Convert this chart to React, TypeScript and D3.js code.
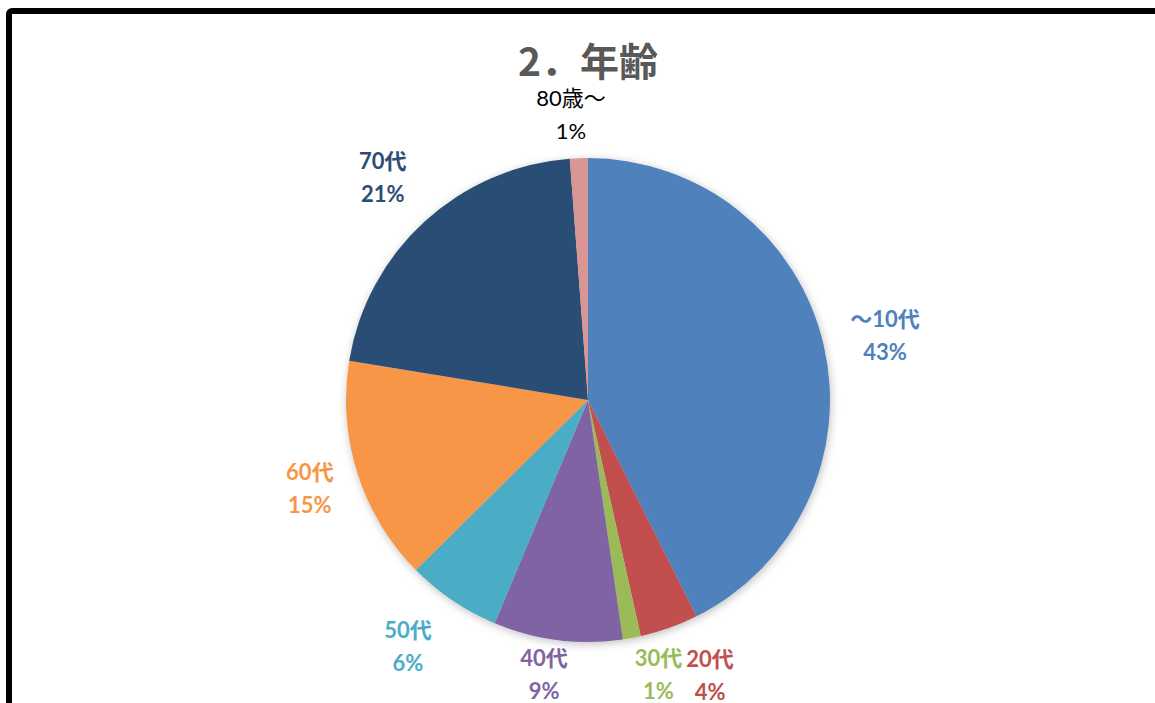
import React from "react";
import * as d3 from "d3";

const categories = ["～10代", "20代", "30代", "40代", "50代", "60代", "70代", "80歳～"];
const values = [42.6, 3.9, 1.2, 8.6, 6.3, 15.0, 21.2, 1.2];
const colors = ["#4F81BD", "#C0504D", "#9BBB59", "#8064A2", "#4BACC6", "#F79646", "#2C4D75", "#D99694"];
const labelColors = ["#4F81BD", "#C0504D", "#9BBB59", "#8064A2", "#4BACC6", "#F79646", "#2C4D75", "#000000"];
const labelNudge: [number, number][] = [
  [10, 3], [23, -3], [17, -16], [-7, -19], [-15, 1], [3, -1], [-6, -5], [-6, 9],
];
const title = "2．年齢";

const W = 1155;
const H = 703;
const cx = 588;
const cy = 400;
const R = 242;
const labelR = 295;

export default function App() {
  const total = d3.sum(values);
  const pie = d3.pie<number>().sort(null).value((d) => d)(values);
  const arc = d3.arc<d3.PieArcDatum<number>>().innerRadius(0).outerRadius(R);
  const fontFam = "Lato, 'Noto Sans CJK JP', sans-serif";

  return (
    <div style={{ position: "fixed", left: 0, top: 0 }}>
      <svg width={W} height={H} style={{ display: "block" }}>
        <defs>
          <filter id="sh" x="-20%" y="-20%" width="140%" height="140%">
            <feDropShadow dx="1" dy="2" stdDeviation="4" floodColor="#000" floodOpacity="0.25" />
          </filter>
        </defs>
        <rect x={0} y={0} width={W} height={H} fill="#fff" />
        <rect x={9} y={11} width={W + 40} height={H + 40} fill="none" stroke="#000" strokeWidth={6} rx={3} />
        <text
          x={cx}
          y={76}
          textAnchor="middle"
          fontFamily="'Noto Sans CJK JP', sans-serif"
          fontWeight={700}
          fontSize={39}
          fill="#595959"
        >
          {title}
        </text>
        <g transform={`translate(${cx},${cy})`} filter="url(#sh)">
          {pie.map((p, i) => (
            <path key={i} d={arc(p) || ""} fill={colors[i]} />
          ))}
        </g>
        <g transform={`translate(${cx},${cy})`}>
          {pie.map((p, i) => {
            const a = (p.startAngle + p.endAngle) / 2;
            const x = labelR * Math.sin(a) + labelNudge[i][0];
            const y = -labelR * Math.cos(a) + labelNudge[i][1];
            const pct = Math.round((values[i] / total) * 100) + "%";
            const isLast = i === values.length - 1;
            return (
              <text
                key={i}
                x={x}
                y={y}
                textAnchor="middle"
                fontFamily={fontFam}
                fontWeight={isLast ? 400 : 700}
                fontSize={22}
                fill={labelColors[i]}
              >
                <tspan x={x} dy={-8}>{categories[i]}</tspan>
                <tspan x={x} dy={33}>{pct}</tspan>
              </text>
            );
          })}
        </g>
      </svg>
    </div>
  );
}
